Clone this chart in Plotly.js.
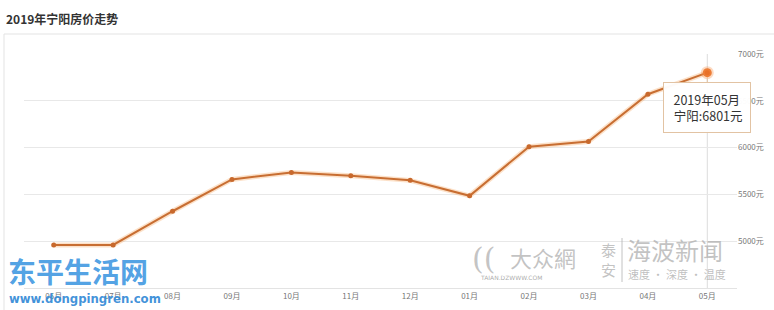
<!DOCTYPE html>
<html><head><meta charset="utf-8">
<script src="https://cdn.plot.ly/plotly-3.0.1.min.js"></script>
<style>html,body{margin:0;padding:0;background:#fff;}#chart{width:774px;height:310px;}</style>
</head><body><div id="chart"></div>
<script>
var months = ['06月','07月','08月','09月','10月','11月','12月','01月','02月','03月','04月','05月'];
var prices = [4960, 4960, 5320, 5660, 5735, 5700, 5650, 5485, 6010, 6065, 6570, 6801];
var yTicks = [5000, 5500, 6000, 6500, 7000];
var yTickText = yTicks.map(function(v){return v + '元';});
var cityName = '宁阳';
var yearLabel = '2019年';
var titleText = '2019年宁阳房价走势';

var W = 774, H = 310;
var M = {l: 24, r: 37, t: 54, b: 22};
var pw = W - M.l - M.r, ph = H - M.t - M.b;
function px(x){ return (x - M.l) / pw; }
function py(y){ return 1 - (y - M.t) / ph; }

var last = months.length - 1;
var lineColor = 'rgb(200,110,50)';
var cjk = '"Noto Sans CJK SC", "Noto Sans", sans-serif';

var traces = [
  {x: months, y: prices, type: 'scatter', mode: 'lines', hoverinfo: 'skip',
   line: {color: 'rgba(245,170,100,0.35)', width: 5}},
  {x: months, y: prices, type: 'scatter', mode: 'lines+markers', hoverinfo: 'skip',
   line: {color: lineColor, width: 2},
   marker: {color: 'rgb(200,105,45)', size: 5}},
  {x: [months[last]], y: [prices[last]], type: 'scatter', mode: 'markers', hoverinfo: 'skip',
   marker: {color: 'rgb(232,112,40)', size: 9, line: {color: 'rgba(245,150,80,0.35)', width: 4}}}
];

var annotations = [
  {xref: 'paper', yref: 'paper', x: px(4), y: py(18), xanchor: 'left', yanchor: 'middle',
   text: '<b>' + titleText + '</b>', showarrow: false, font: {family: cjk, size: 12, color: '#333'}},
  {xref: 'x', yref: 'y', x: months[last], y: prices[last], ax: 0, ay: 35, showarrow: true,
   arrowhead: 0, arrowwidth: 1, arrowcolor: '#e2c3a3', standoff: 6,
   text: yearLabel + months[last] + '<br> ' + cityName + ':' + prices[last] + '元',
   font: {family: cjk, size: 12.5, color: '#333'}, bgcolor: 'rgba(255,255,255,0.97)',
   bordercolor: '#e2c3a3', borderwidth: 1, borderpad: 7, align: 'center'},
  // watermarks
  {xref: 'paper', yref: 'paper', x: px(6), y: py(271), xanchor: 'left', yanchor: 'middle',
   text: '<b>东平生活网</b>', showarrow: false, font: {family: cjk, size: 28, color: 'rgba(60,150,225,0.9)'}},
  {xref: 'paper', yref: 'paper', x: px(7), y: py(298), xanchor: 'left', yanchor: 'middle',
   text: '<b>www.dongpingren.com</b>', showarrow: false, font: {family: 'DejaVu Sans Condensed, DejaVu Sans', size: 13, color: 'rgba(55,140,215,0.95)'}},
  {xref: 'paper', yref: 'paper', x: px(470), y: py(258), xanchor: 'left', yanchor: 'middle',
   text: '((', showarrow: false, font: {family: 'DejaVu Serif', size: 30, color: 'rgba(170,170,170,0.7)'}},
  {xref: 'paper', yref: 'paper', x: px(508), y: py(257), xanchor: 'left', yanchor: 'middle',
   text: '大众網', showarrow: false, font: {family: cjk, size: 22, color: 'rgba(175,175,175,0.75)'}},
  {xref: 'paper', yref: 'paper', x: px(478), y: py(277), xanchor: 'left', yanchor: 'middle',
   text: 'TAIAN.DZWWW.COM', showarrow: false, font: {family: 'DejaVu Sans', size: 6, color: 'rgba(150,150,150,0.8)'}},
  {xref: 'paper', yref: 'paper', x: px(599), y: py(259), xanchor: 'left', yanchor: 'middle',
   text: '泰<br>安', showarrow: false, font: {family: cjk, size: 15, color: 'rgba(175,175,175,0.75)'}},
  {xref: 'paper', yref: 'paper', x: px(625), y: py(249), xanchor: 'left', yanchor: 'middle',
   text: '海波新闻', showarrow: false, font: {family: cjk, size: 24, color: 'rgba(175,175,175,0.75)'}},
  {xref: 'paper', yref: 'paper', x: px(626), y: py(274), xanchor: 'left', yanchor: 'middle',
   text: '速度 · 深度 · 温度', showarrow: false, font: {family: cjk, size: 11, color: 'rgba(175,175,175,0.8)'}}
];

var shapes = [
  {type: 'line', xref: 'paper', yref: 'paper', x0: px(4), x1: px(774), y0: py(34), y1: py(34), line: {color: '#e3e3e3', width: 1}},
  {type: 'line', xref: 'paper', yref: 'paper', x0: px(4), x1: px(4), y0: py(34), y1: py(310), line: {color: '#e3e3e3', width: 1}},
  {type: 'line', xref: 'x', yref: 'paper', x0: months[last], x1: months[last], y0: 0, y1: 1, line: {color: '#dcdcdc', width: 1}, layer: 'below'},
  {type: 'line', xref: 'paper', yref: 'paper', x0: px(622), x1: px(622), y0: py(238), y1: py(282), line: {color: 'rgba(170,170,170,0.7)', width: 1}}
];

var layout = {
  width: W, height: H, margin: M, paper_bgcolor: '#fff', plot_bgcolor: '#fff', showlegend: false,
  font: {family: cjk, color: '#777'},
  xaxis: {type: 'category', range: [-0.5, months.length - 0.5], showgrid: false, zeroline: false,
    showline: true, linecolor: '#e3e3e3', linewidth: 1, ticks: '', tickfont: {size: 8, color: '#777'}, fixedrange: true},
  yaxis: {side: 'right', range: [4500, 7000], tickvals: yTicks, ticktext: yTickText, showgrid: true,
    gridcolor: '#e8e8e8', gridwidth: 1, zeroline: false, showline: false, ticks: '',
    tickfont: {size: 8, color: '#777'}, fixedrange: true},
  annotations: annotations, shapes: shapes
};

Plotly.newPlot('chart', traces, layout, {displayModeBar: false, staticPlot: true});
</script></body></html>
